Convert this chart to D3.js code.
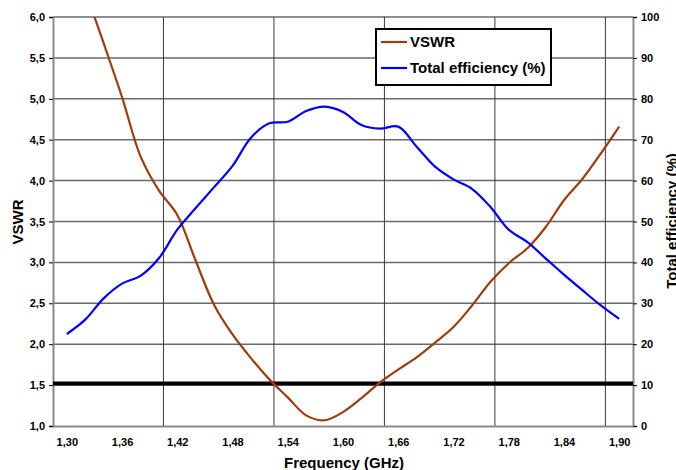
<!DOCTYPE html>
<html>
<head>
<meta charset="utf-8">
<script src="https://cdn.jsdelivr.net/npm/d3@7"></script>
<style>
  body { margin: 0; background: #fff; }
  svg { display: block; font-family: 'Liberation Sans', Arial, sans-serif; }
  .tick text { font-size: 11px; font-weight: bold; fill: #000; }
</style>
</head>
<body>
<svg id="chart" width="676" height="470"></svg>
<script>
// frequency points (GHz)
var freq = [1.30, 1.32, 1.34, 1.36, 1.38, 1.40, 1.42, 1.44, 1.46, 1.48, 1.50,
            1.52, 1.54, 1.56, 1.58, 1.60, 1.62, 1.64, 1.66, 1.68, 1.70,
            1.72, 1.74, 1.76, 1.78, 1.80, 1.82, 1.84, 1.86, 1.88, 1.90];

var vswr = [null, 6.32, 5.68, 5.02, 4.30, 3.88, 3.58, 3.02, 2.48, 2.12, 1.83,
            1.57, 1.35, 1.13, 1.07, 1.17, 1.34, 1.53, 1.69, 1.84, 2.02,
            2.21, 2.47, 2.76, 2.99, 3.17, 3.43, 3.76, 4.02, 4.33, 4.66];

var efficiency = [22.5, 26.0, 31.2, 34.8, 36.7, 41.0, 48.0, 53.3, 58.4, 63.6, 70.5,
                  74.0, 74.4, 77.0, 78.1, 76.8, 73.6, 72.7, 73.2, 68.3, 63.4,
                  60.3, 58.0, 53.6, 48.0, 45.0, 41.0, 37.0, 33.2, 29.5, 26.2];

var freqTicks = [1.30, 1.36, 1.42, 1.48, 1.54, 1.60, 1.66, 1.72, 1.78, 1.84, 1.90];
var freqGrid = [1.405, 1.525, 1.645, 1.765, 1.885];
var vswrTicks = [1.0, 1.5, 2.0, 2.5, 3.0, 3.5, 4.0, 4.5, 5.0, 5.5, 6.0];
var effTicks = [0, 10, 20, 30, 40, 50, 60, 70, 80, 90, 100];
var vswrLimit = 1.52;

var svg = d3.select('#chart');
var pLeft = 53, pRight = 633, pTop = 17, pBottom = 426;

var x = d3.scaleLinear().domain([1.285, 1.915]).range([pLeft, pRight]);
var yL = d3.scaleLinear().domain([1, 6]).range([pBottom, pTop]);
var yR = d3.scaleLinear().domain([0, 100]).range([pBottom, pTop]);

var comma = function (f) {
    return function (d) { return d3.format(f)(d).replace('.', ','); };
};

svg.append('defs').append('clipPath').attr('id', 'plot-clip')
    .append('rect')
    .attr('x', pLeft).attr('y', pTop)
    .attr('width', pRight - pLeft).attr('height', pBottom - pTop);

// horizontal grid
svg.append('g').selectAll('line')
    .data(vswrTicks.slice(1))
    .enter().append('line')
    .attr('x1', pLeft).attr('x2', pRight)
    .attr('y1', function (d) { return yL(d); })
    .attr('y2', function (d) { return yL(d); })
    .attr('stroke', '#6a6a6a')
    .attr('stroke-width', 1.5);

// vertical grid
svg.append('g').selectAll('line')
    .data(freqGrid)
    .enter().append('line')
    .attr('x1', function (d) { return x(d); })
    .attr('x2', function (d) { return x(d); })
    .attr('y1', pTop).attr('y2', pBottom)
    .attr('stroke', '#3a3a3a')
    .attr('stroke-width', 1);

// axes
var axL = svg.append('g')
    .attr('transform', 'translate(' + pLeft + ',0)')
    .call(d3.axisLeft(yL).tickValues(vswrTicks).tickFormat(comma('.1f')).tickSizeOuter(0).tickSize(4).tickPadding(4));
var axR = svg.append('g')
    .attr('transform', 'translate(' + pRight + ',0)')
    .call(d3.axisRight(yR).tickValues(effTicks).tickFormat(d3.format('d')).tickSizeOuter(0).tickSize(4).tickPadding(4));
var axB = svg.append('g')
    .attr('transform', 'translate(0,' + pBottom + ')')
    .call(d3.axisBottom(x).tickValues(freqTicks).tickFormat(comma('.2f')).tickSizeOuter(0).tickSize(0).tickPadding(12));

[axL, axR, axB].forEach(function (a) {
    a.select('.domain').attr('stroke', '#8a8a8a').attr('stroke-width', 2);
    a.selectAll('.tick line').attr('stroke', '#000');
});

// reference line
svg.append('line')
    .attr('x1', pLeft).attr('x2', pRight)
    .attr('y1', yL(vswrLimit)).attr('y2', yL(vswrLimit))
    .attr('stroke', '#000')
    .attr('stroke-width', 4);

var plot = svg.append('g').attr('clip-path', 'url(#plot-clip)');

var lineV = d3.line()
    .defined(function (d) { return d[1] != null; })
    .x(function (d) { return x(d[0]); })
    .y(function (d) { return yL(d[1]); })
    .curve(d3.curveCatmullRom);

var lineE = d3.line()
    .x(function (d) { return x(d[0]); })
    .y(function (d) { return yR(d[1]); })
    .curve(d3.curveCatmullRom);

plot.append('path')
    .datum(d3.zip(freq, vswr))
    .attr('d', lineV)
    .attr('fill', 'none')
    .attr('stroke', '#a03c0c')
    .attr('stroke-width', 2.2);

plot.append('path')
    .datum(d3.zip(freq, efficiency))
    .attr('d', lineE)
    .attr('fill', 'none')
    .attr('stroke', '#0000ff')
    .attr('stroke-width', 2.2);

// axis titles
svg.append('text')
    .attr('transform', 'translate(23,222) rotate(-90)')
    .attr('text-anchor', 'middle')
    .attr('font-size', 15).attr('font-weight', 'bold')
    .text('VSWR');

svg.append('text')
    .attr('transform', 'translate(677,221) rotate(-90)')
    .attr('text-anchor', 'middle')
    .attr('font-size', 15).attr('font-weight', 'bold')
    .text('Total efficiency (%)');

svg.append('text')
    .attr('x', 344).attr('y', 468)
    .attr('text-anchor', 'middle')
    .attr('font-size', 15).attr('font-weight', 'bold')
    .text('Frequency (GHz)');

// legend
var legend = svg.append('g');
legend.append('rect')
    .attr('x', 376).attr('y', 29)
    .attr('width', 175).attr('height', 56)
    .attr('fill', '#fff')
    .attr('stroke', '#000')
    .attr('stroke-width', 2);

var items = [['VSWR', '#a03c0c'], ['Total efficiency (%)', '#0000ff']];
items.forEach(function (it, i) {
    var yy = 42 + i * 26;
    legend.append('line')
        .attr('x1', 381).attr('x2', 407)
        .attr('y1', yy).attr('y2', yy)
        .attr('stroke', it[1]).attr('stroke-width', 2.2);
    legend.append('text')
        .attr('x', 410).attr('y', yy + 5)
        .attr('font-size', 15).attr('font-weight', 'bold')
        .text(it[0]);
});
</script>
</body>
</html>
